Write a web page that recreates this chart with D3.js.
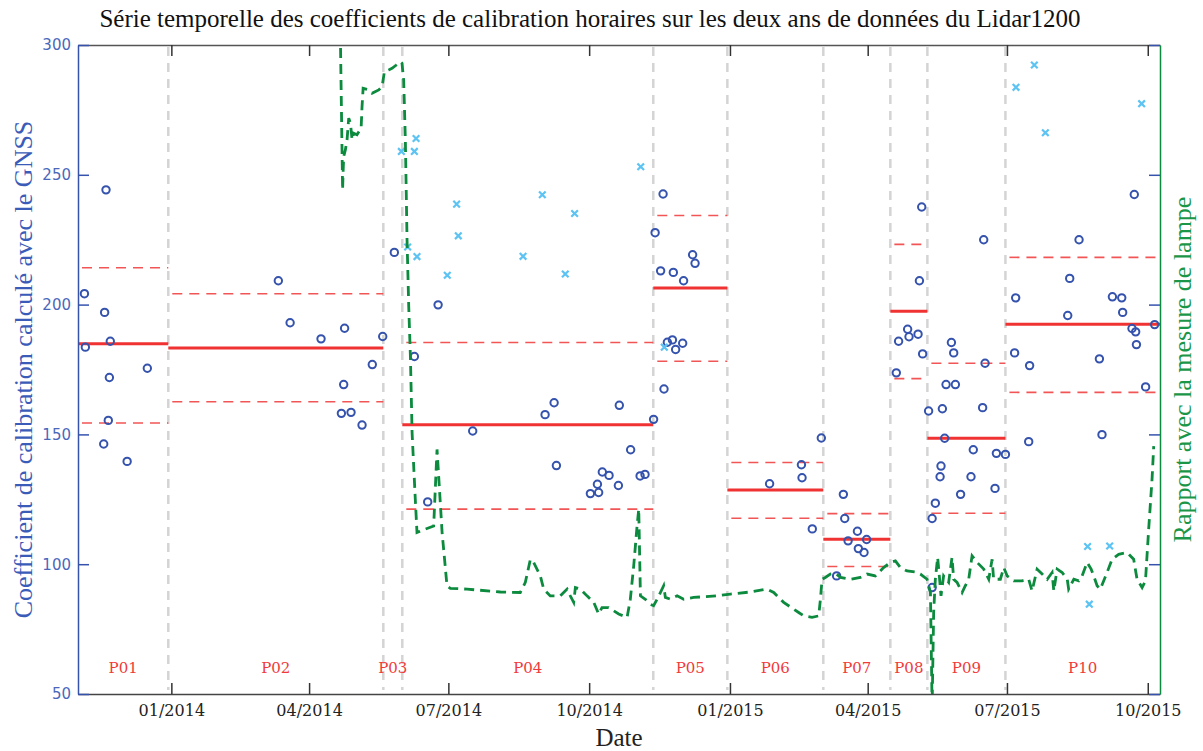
<!DOCTYPE html>
<html>
<head>
<meta charset="utf-8">
<script src="https://cdn.jsdelivr.net/npm/d3@7"></script>
<style>
  body { margin: 0; background: #fff; }
</style>
</head>
<body>
<svg id="chart" width="1203" height="751"></svg>
<script>
// days are counted from 01/01/2014
const dayZero = new Date(2014, 0, 1);
const xStartDay = -61, xEndDay = 646;

const monthTicks = ["2014-01-01", "2014-04-01", "2014-07-01", "2014-10-01",
                    "2015-01-01", "2015-04-01", "2015-07-01", "2015-10-01"];
const yTicks = [50, 100, 150, 200, 250, 300];

// periods
const periodNames = ["P01", "P02", "P03", "P04", "P05", "P06", "P07", "P08", "P09", "P10"];
const periodBounds = [-61, -2, 138.5, 150.9, 314.9, 363.3, 426.0, 469.8, 494.0, 545.0, 646];
const periodMean  = [184.9, 183.3, null, 153.7, 206.4, 128.6, 109.6, 197.4, 148.5, 192.4];
const periodUpper = [214.2, 204.2, null, 185.4, 234.3, 139.2, 119.5, 223.2, 177.4, 218.2];
const periodLower = [154.4, 162.6, null, 121.2, 178.2, 117.7,  99.1, 171.5, 119.6, 166.2];

// hourly calibration coefficients (GNSS)
const coefDay = [-56.8,-56.2,-42.7,-43.6,-39.9,-40.5,-41.2,-44.2,-28.9,-15.7,
  69.9,77.6,97.8,113.2,112.6,111.1,117.4,124.6,131.3,138.1,
  145.7,
  158.8,167.5,174.3,196.9,244.2,250.1,251.6,292.7,300.1,281.6,286.0,278.4,273.8,279.2,292.1,306.3,309.5,315.1,
  321.9,321.3,316.1,319.7,328.0,334.7,340.6,342.2,324.1,327.4,329.5,334.1,
  390.9,411.7,412.1,418.8,424.7,
  439.1,440.0,434.7,448.3,442.2,454.3,448.9,452.6,
  490.3,488.8,481.1,475.2,482.0,487.9,490.9,473.7,
  494.8,503.8,509.7,511.2,506.2,512.3,505.3,502.9,502.3,499.2,497.1,497.1,515.7,522.5,524.0,530.8,531.7,530.1,539.1,538.2,545.0,
  551.7,551.0,560.8,560.2,587.0,593.1,585.7,606.4,608.1,614.9,621.0,621.6,627.7,630.1,630.6,629.2,636.6,642.5];
const coefValue = [204.2,183.6,244.2,197.0,185.9,171.9,155.4,146.3,139.6,175.5,
  209.2,193.0,186.8,190.9,169.2,158.1,158.5,153.6,176.9,187.7,
  220.1,
  180.0,124.0,199.9,151.3,157.6,162.2,138.0,161.2,144.1,135.5,134.2,130.8,127.2,127.6,130.3,134.0,134.6,155.8,
  167.5,242.6,227.7,213.0,212.4,209.2,219.2,215.9,185.5,186.4,182.7,185.1,
  131.0,138.3,133.3,113.6,148.6,
  126.9,117.6,95.5,112.7,109.0,109.5,106.0,104.5,
  237.6,209.2,190.5,185.9,187.6,188.6,181.0,173.7,
  159.0,159.9,185.4,181.4,169.2,169.2,148.5,137.8,133.7,123.5,117.6,91.0,126.9,133.7,144.1,225.0,177.4,160.3,142.7,129.2,142.3,
  202.6,181.4,176.5,147.2,210.1,225.0,195.8,179.1,149.9,203.0,202.6,197.0,190.8,189.5,184.6,242.4,168.3,192.3];

// rejected values
const outlierDay = [150.3,158.8,159.9,154.4,160.5,186.4,187.5,180.3,229.8,242.4,263.5,257.4,306.7,322.1,
  551.9,563.9,571.1,634.0,598.7,613.1,599.8];
const outlierValue = [259.0,259.0,264.0,222.2,218.5,238.7,226.5,211.3,218.6,242.3,235.1,211.8,253.1,183.6,
  283.7,292.3,266.2,277.4,106.8,107.0,84.6];

// ratio with the lamp measurement (right axis)
const lampDay = [110.4,111.9,112.2,112.6,113.7,114.8,115.9,117.0,118.1,119.1,121.3,124.0,124.6,125.3,128.9,131.1,135.5,137.7,
  139.2,142.0,144.2,147.0,149.6,150.7,151.8,152.9,154.0,155.1,156.2,157.3,159.4,160.5,166.0,171.4,173.6,176.9,180.1,182.3,
  193.2,215.0,228.0,231.3,234.6,236.7,241.1,243.3,247.6,254.2,258.6,260.7,262.9,264.0,267.3,271.6,276.0,279.2,281.4,285.7,
  292.3,297.8,299.9,302.1,304.3,305.4,306.5,309.7,313.0,315.1,317.4,321.7,322.8,326.1,330.5,334.8,341.3,356.6,365.3,378.4,
  389.3,393.6,400.1,409.9,413.2,418.6,423.0,424.1,425.2,427.3,430.6,433.9,437.2,443.7,450.2,454.6,460.0,465.4,469.8,473.1,
  476.4,480.7,486.2,489.4,493.8,496.0,497.1,498.1,499.2,500.7,502.0,502.9,504.6,507.9,510.1,511.2,513.4,516.7,518.8,521.0,
  523.2,526.5,530.8,534.1,536.3,537.3,541.7,543.9,546.1,550.4,555.9,560.2,562.4,565.7,569.0,572.3,575.5,576.6,578.8,582.1,
  585.4,586.3,589.7,592.9,595.1,598.4,601.0,602.7,604.9,607.0,611.4,614.7,619.0,624.5,628.8,631.0,634.3,636.5,638.6,640.8,641.9];
const lampRatio = [305,244.2,250.7,257.0,259.6,263.5,271.8,269.9,263.5,266.0,265.4,268.0,276.3,283.3,282.7,281.4,282.7,284.0,
  289.7,290.4,291.0,292.3,293.6,293.0,286.5,263.5,225.0,199.3,180.1,150.7,125.0,112.2,113.5,114.7,144.2,112.3,91.7,90.7,
  90.4,89.3,89.1,93.0,101.9,100.7,95.5,90.4,87.8,87.8,90.4,87.8,85.3,91.0,90.4,87.8,85.3,80.8,83.3,83.3,
  80.8,79.5,86.5,99.3,114.7,121.2,87.8,86.5,84.6,84.0,86.5,91.7,87.2,86.5,87.8,86.5,87.2,87.8,88.5,89.3,
  90.4,89.1,85.3,81.4,80.1,79.5,80.1,86.5,94.2,94.9,96.2,96.5,94.9,94.2,94.9,96.2,95.5,98.7,100.7,101.3,
  98.7,97.4,97.0,96.2,94.2,89.1,45,81.4,94.2,102.6,94.2,87.8,95.5,93.0,102.6,94.2,93.0,89.1,91.7,94.2,
  103.2,100.7,98.1,94.2,101.9,94.2,94.2,98.7,95.5,93.6,93.6,94.2,89.7,98.1,96.2,94.2,96.8,89.7,98.1,96.8,
  94.2,90.4,94.2,93.6,95.5,100.7,98.1,95.5,91.7,90.4,96.8,101.9,103.8,104.5,101.9,94.2,91.0,93.6,113.5,132.7,145.5];

const dayToDate = d => new Date(dayZero.getTime() + d * 864e5);

const svg = d3.select("#chart");
const plotLeft = 78, plotRight = 1160, plotTop = 45, plotBottom = 694;

const x = d3.scaleTime().domain([dayToDate(xStartDay), dayToDate(xEndDay)]).range([plotLeft, plotRight]);
const y = d3.scaleLinear().domain([50, 300]).range([plotBottom, plotTop]);
const yR = d3.scaleLinear().domain([50, 300]).range([plotBottom, plotTop]);

const blue = "#3553ad", green = "#0c8a3e", red = "#f03232";

svg.append("defs").append("clipPath").attr("id", "plotclip")
  .append("rect").attr("x", plotLeft).attr("y", plotTop)
  .attr("width", plotRight - plotLeft).attr("height", plotBottom - plotTop);

const plot = svg.append("g").attr("clip-path", "url(#plotclip)");

// period separators
plot.selectAll(".sep")
  .data(periodBounds.slice(1, -1))
  .join("line")
  .attr("x1", d => x(dayToDate(d))).attr("x2", d => x(dayToDate(d)))
  .attr("y1", plotTop + 2).attr("y2", plotBottom - 4)
  .attr("stroke", "#d4d4d4").attr("stroke-width", 2.5).attr("stroke-dasharray", "9,7");

// mean and +/- std per period
const periods = periodNames.map((name, i) => ({
  name, from: periodBounds[i], to: periodBounds[i + 1],
  mean: periodMean[i], upper: periodUpper[i], lower: periodLower[i]
}));

periods.filter(p => p.mean != null).forEach(p => {
  [p.upper, p.lower].forEach(v => {
    plot.append("line")
      .attr("x1", x(dayToDate(p.from)) + 4).attr("x2", x(dayToDate(p.to)))
      .attr("y1", y(v)).attr("y2", y(v))
      .attr("stroke", "#f25555").attr("stroke-width", 1.6).attr("stroke-dasharray", "10,7");
  });
  plot.append("line")
    .attr("x1", x(dayToDate(p.from))).attr("x2", x(dayToDate(p.to)))
    .attr("y1", y(p.mean)).attr("y2", y(p.mean))
    .attr("stroke", red).attr("stroke-width", 3);
});

// coefficients
plot.selectAll(".coef")
  .data(d3.zip(coefDay, coefValue))
  .join("circle")
  .attr("cx", d => x(dayToDate(d[0])))
  .attr("cy", d => y(d[1]))
  .attr("r", 3.7)
  .attr("fill", "none").attr("stroke", blue).attr("stroke-width", 2);

// rejected
plot.selectAll(".out")
  .data(d3.zip(outlierDay, outlierValue))
  .join("path")
  .attr("transform", d => `translate(${x(dayToDate(d[0]))},${y(d[1])})`)
  .attr("d", "M-3.3,-3.3L3.3,3.3M-3.3,3.3L3.3,-3.3")
  .attr("stroke", "#5cc3f2").attr("stroke-width", 2.2);

// lamp ratio
const lampLine = d3.line()
  .x(d => x(dayToDate(d[0])))
  .y(d => yR(d[1]));

plot.append("path")
  .datum(d3.zip(lampDay, lampRatio))
  .attr("d", lampLine)
  .attr("fill", "none").attr("stroke", green).attr("stroke-width", 2.8)
  .attr("stroke-dasharray", "10,6");

// period labels
svg.selectAll(".plab")
  .data(periods)
  .join("text")
  .attr("x", p => (x(dayToDate(p.from)) + x(dayToDate(p.to))) / 2)
  .attr("y", 673)
  .attr("text-anchor", "middle")
  .attr("font-family", "DejaVu Serif").attr("font-size", 15)
  .attr("fill", "#f03a3a")
  .text(p => p.name);

// axes
const tickDates = monthTicks.map(s => new Date(s + "T00:00:00"));

const xAxis = svg.append("g").attr("transform", `translate(0,${plotBottom})`)
  .call(d3.axisBottom(x).tickValues(tickDates).tickFormat(d3.timeFormat("%m/%Y"))
    .tickSizeInner(-11).tickSizeOuter(0).tickPadding(11));
xAxis.select(".domain").attr("stroke", "#444").attr("stroke-width", 1.5);
xAxis.selectAll(".tick line").attr("stroke", "#333").attr("stroke-width", 1.5);
xAxis.selectAll("text").attr("font-family", "DejaVu Serif").attr("font-size", 16).attr("fill", "#222");

const xTop = svg.append("g").attr("transform", `translate(0,${plotTop})`)
  .call(d3.axisTop(x).tickValues(tickDates).tickFormat("").tickSizeInner(-11).tickSizeOuter(0));
xTop.select(".domain").attr("stroke", "#555").attr("stroke-width", 1.5);
xTop.selectAll(".tick line").attr("stroke", "#333").attr("stroke-width", 1.5);

const yAxis = svg.append("g").attr("transform", `translate(${plotLeft},0)`)
  .call(d3.axisLeft(y).tickValues(yTicks).tickSizeInner(-11).tickSizeOuter(0).tickPadding(7));
yAxis.select(".domain").attr("stroke", blue).attr("stroke-width", 1.5);
yAxis.selectAll(".tick line").attr("stroke", blue).attr("stroke-width", 1.5);
yAxis.selectAll("text").attr("font-family", "DejaVu Sans").attr("font-size", 15).attr("fill", "#4b67bb");

const yMirror = svg.append("g").attr("transform", `translate(${plotRight},0)`)
  .call(d3.axisRight(y).tickValues(yTicks).tickFormat("").tickSizeInner(-11).tickSizeOuter(0));
yMirror.select(".domain").remove();
yMirror.selectAll(".tick line").attr("stroke", blue).attr("stroke-width", 1.5);

const yRight = svg.append("g").attr("transform", `translate(${plotRight},0)`)
  .call(d3.axisRight(yR).tickValues([]).tickSizeOuter(0));
yRight.select(".domain").attr("stroke", green).attr("stroke-width", 1.5);

// titles
svg.append("text")
  .attr("x", 590).attr("y", 27)
  .attr("text-anchor", "middle")
  .attr("font-family", "Liberation Serif").attr("font-size", 25).attr("fill", "#111")
  .text("Série temporelle des coefficients de calibration horaires sur les deux ans de données du Lidar1200");

svg.append("text")
  .attr("x", (plotLeft + plotRight) / 2).attr("y", 746)
  .attr("text-anchor", "middle")
  .attr("font-family", "Liberation Serif").attr("font-size", 25).attr("fill", "#222")
  .text("Date");

svg.append("text")
  .attr("transform", `translate(32,${(plotTop + plotBottom) / 2}) rotate(-90)`)
  .attr("text-anchor", "middle")
  .attr("font-family", "Liberation Serif").attr("font-size", 26).attr("fill", "#3a5cb8")
  .text("Coefficient de calibration calculé avec le GNSS");

svg.append("text")
  .attr("transform", `translate(1191,${(plotTop + plotBottom) / 2}) rotate(-90)`)
  .attr("text-anchor", "middle")
  .attr("font-family", "Liberation Serif").attr("font-size", 26).attr("fill", "#1a9648")
  .text("Rapport avec la mesure de lampe");
</script>
</body>
</html>
